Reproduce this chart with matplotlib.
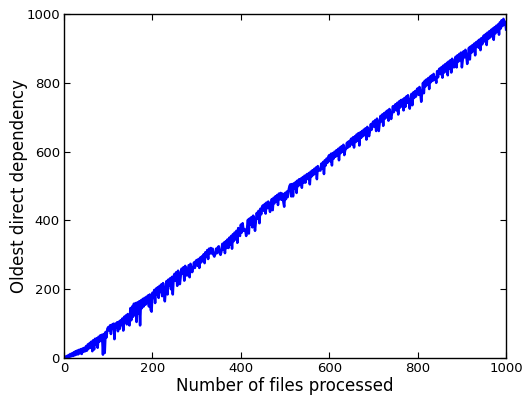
import matplotlib
matplotlib.use("Agg")
import matplotlib.pyplot as plt

files_step = 2
oldest_dep = [
    0, 4, 1, 6, 2, 9, 3, 12, 5, 14, 6, 17, 8, 20, 10, 22, 11, 24, 14, 26, 12, 28, 18, 30, 20,
    35, 22, 40, 28, 44, 30, 48, 20, 52, 25, 56, 40, 58, 30, 62, 48, 66, 50, 68, 10, 70, 15, 76, 60, 85,
    90, 80, 95, 70, 97, 86, 100, 55, 100, 88, 104, 78, 106, 85, 110, 96, 115, 80, 120, 105, 124, 98, 128, 110, 95,
    145, 110, 150, 120, 158, 125, 160, 105, 162, 130, 165, 95, 168, 145, 172, 150, 175, 155, 178, 160, 182, 150, 185, 140, 135,
    190, 175, 198, 160, 202, 185, 206, 175, 210, 192, 214, 180, 218, 195, 165, 200, 224, 185, 228, 210, 232, 200, 236, 185, 238,
    245, 225, 250, 210, 254, 236, 215, 240, 260, 245, 264, 225, 268, 252, 240, 256, 270, 235, 274, 258, 250, 262, 278, 262, 282,
    285, 268, 288, 262, 292, 278, 296, 282, 302, 276, 308, 294, 314, 288, 318, 304, 320, 304, 318, 300, 295, 302, 318, 305, 322,
    325, 305, 300, 310, 332, 315, 336, 305, 340, 320, 345, 320, 350, 330, 355, 318, 360, 340, 365, 345, 370, 335, 378, 360, 355,
    388, 365, 392, 370, 375, 372, 355, 378, 402, 362, 406, 388, 410, 380, 414, 395, 370, 398, 422, 405, 428, 392, 434, 418, 440,
    444, 428, 448, 420, 452, 436, 455, 438, 425, 440, 462, 430, 466, 450, 470, 455, 474, 445, 478, 462, 480, 460, 478, 455, 440,
    480, 462, 484, 468, 488, 500, 505, 470, 506, 470, 508, 494, 512, 480, 516, 500, 520, 505, 522, 495, 526, 510, 530, 510, 532,
    535, 520, 538, 505, 542, 528, 546, 532, 550, 536, 554, 520, 558, 545, 548, 545, 565, 550, 570, 535, 575, 560, 580, 568, 586,
    590, 572, 594, 560, 596, 580, 600, 585, 604, 588, 608, 575, 612, 596, 616, 600, 620, 590, 605, 608, 626, 612, 630, 615, 634,
    638, 620, 642, 612, 645, 628, 650, 632, 654, 618, 656, 640, 660, 645, 664, 648, 668, 635, 672, 656, 645, 660, 680, 664, 684,
    688, 672, 692, 660, 696, 680, 660, 684, 704, 688, 708, 675, 712, 696, 716, 700, 720, 690, 724, 708, 695, 712, 732, 715, 734,
    738, 720, 742, 708, 746, 728, 750, 732, 752, 720, 756, 730, 760, 742, 764, 746, 725, 748, 768, 735, 772, 756, 776, 760, 780,
    784, 765, 788, 770, 745, 772, 800, 770, 806, 790, 810, 794, 814, 782, 818, 802, 822, 806, 826, 810, 815, 800, 834, 816, 838,
    842, 825, 846, 815, 850, 830, 854, 834, 858, 822, 862, 842, 866, 830, 870, 850, 845, 852, 876, 845, 880, 862, 884, 866, 888,
    845, 870, 892, 874, 896, 878, 855, 880, 902, 868, 906, 888, 910, 892, 914, 880, 918, 905, 922, 902, 926, 895, 930, 912, 934,
    938, 920, 942, 910, 946, 928, 950, 932, 954, 936, 958, 925, 962, 944, 966, 948, 970, 940, 976, 958, 982, 965, 986, 970, 978,
    955,
]
files = list(range(0, files_step * len(oldest_dep), files_step))

fig = plt.figure(figsize=(5.25, 4.01), dpi=100)
fig.patch.set_facecolor("white")
ax = fig.add_axes([0.122, 0.107, 0.842, 0.858])
ax.plot(files, oldest_dep, color="#0000ff", linewidth=1.8)
ax.set_xlim(0, 1000)
ax.set_ylim(0, 1000)
ax.set_xticks([0, 200, 400, 600, 800, 1000])
ax.set_yticks([0, 200, 400, 600, 800, 1000])
ax.tick_params(direction="in", top=True, right=True, labelsize=9.5, length=4, pad=3)
ax.set_xlabel("Number of files processed", fontsize=12, labelpad=1)
ax.set_ylabel("Oldest direct dependency", fontsize=12, labelpad=-1)
for s in ax.spines.values():
    s.set_linewidth(1)
fig.savefig("out.png", dpi=100, facecolor="white")
